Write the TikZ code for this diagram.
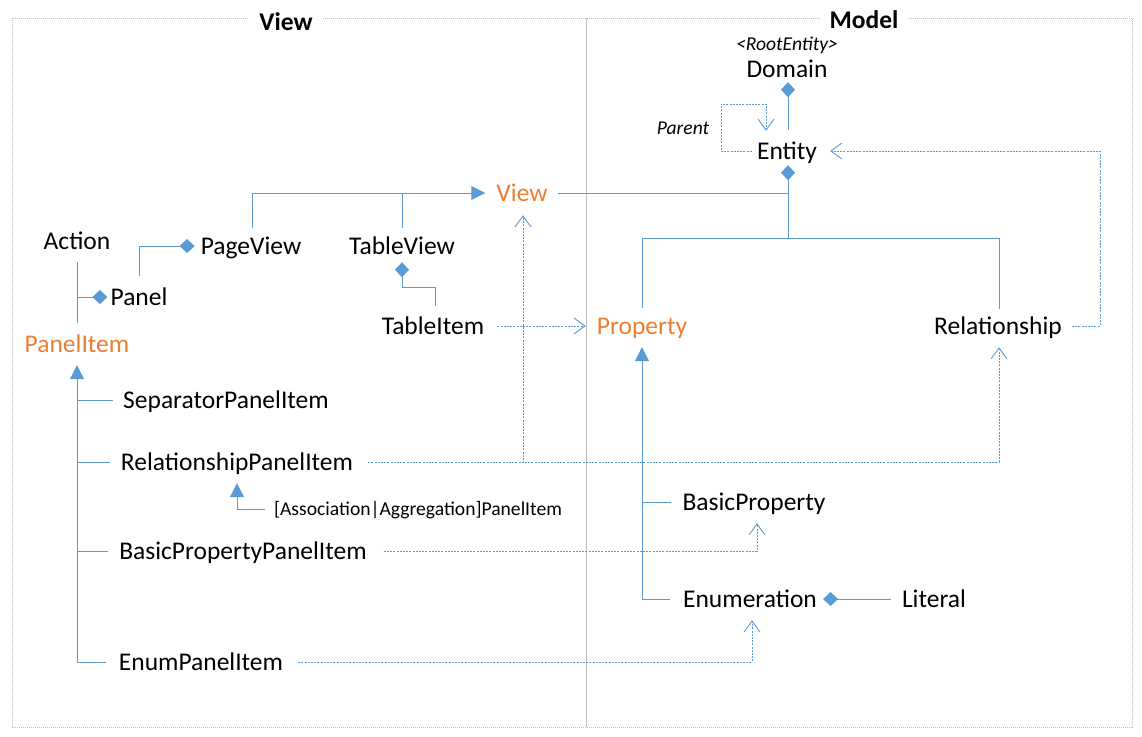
\documentclass[tikz,border=0pt]{standalone}
\usepackage{fontspec}
\setmainfont{Carlito}
\usetikzlibrary{arrows.meta}
\definecolor{lblue}{HTML}{5B9BD5}
\definecolor{orng}{HTML}{ED7D31}
\definecolor{frame}{HTML}{BFBFBF}
\tikzset{
  cls/.style={inner sep=0pt, font=\fontsize{25.5}{30}\selectfont, text height=19pt, text depth=3pt},
  abstr/.style={cls, text=orng},
  smalltext/.style={inner sep=0pt, font=\fontsize{19.6}{23}\selectfont, text height=15pt, text depth=2pt},
  smallit/.style={smalltext, font=\fontsize{19.6}{23}\selectfont\itshape},
  title/.style={inner xsep=10pt, inner ysep=0pt, fill=white, font=\fontsize{25.5}{30}\selectfont\bfseries, text height=19pt, text depth=3pt},
  line/.style={draw=lblue, line width=1pt},
  dep/.style={draw=lblue, line width=0.9pt, dash pattern=on 2pt off 1.2pt, -{Straight Barb[length=11pt,width=16pt,line width=0.9pt]}},
  comp/.style={{Diamond[length=15pt,width=14pt,fill=lblue]}-},
  gen/.style={-{Triangle[length=14pt,width=14pt,fill=lblue]}}
}
\begin{document}
\begin{tikzpicture}[x=1pt,y=-1pt]
\path[use as bounding box] (0,0) rectangle (1142,736);
% frame
\draw[frame, line width=0.8pt, dash pattern=on 1pt off 1pt] (12,18) rectangle (1132,727);
\draw[frame, line width=0.8pt] (586,18) -- (586,727);
\node[title] (tView) at (286,22) {View};
\node[title] (tModel) at (864,20) {Model};

% model side
\node[smallit] (stereo) at (787,44) {<RootEntity>};
\node[cls] (Domain) at (787,69) {Domain};
\node[cls] (Entity) at (787,151) {Entity};
\node[smallit] (parentlbl) at (683,128) {Parent};
\node[abstr] (View) at (522,193) {View};
\node[abstr] (Property) at (642,326) {Property};
\node[cls] (Relationship) at (998,326) {Relationship};
\node[cls] (BasicProperty) at (754,502) {BasicProperty};
\node[cls] (Enumeration) at (750,599) {Enumeration};
\node[cls] (Literal) at (934,599) {Literal};

% view side
\node[cls] (Action) at (77,241) {Action};
\node[cls] (PageView) at (251,246) {PageView};
\node[cls] (TableView) at (402,246) {TableView};
\node[cls] (Panel) at (139,297) {Panel};
\node[abstr] (PanelItem) at (77,344) {PanelItem};
\node[cls] (TableItem) at (433,326) {TableItem};
\node[cls] (SepPI) at (226,400) {SeparatorPanelItem};
\node[cls] (RelPI) at (237,462) {RelationshipPanelItem};
\node[smalltext] (AssocPI) at (418,509) {[Association|Aggregation]PanelItem};
\node[cls] (BasicPI) at (243,551) {BasicPropertyPanelItem};
\node[cls] (EnumPI) at (201,662) {EnumPanelItem};

% Domain - Entity
\draw[line,comp] ([xshift=1pt,yshift=-2pt]Domain.south) -- ([xshift=1pt,yshift=10pt]Entity.north);
% Parent self loop
\draw[dep] ([xshift=-5pt]Entity.west) -| (721,104) -| ([xshift=-21pt,yshift=9pt]Entity.north);
% Entity composition
\draw[line,comp] ([xshift=1pt,yshift=-3pt]Entity.south) -- (788,238) -| ([yshift=7pt]Property.north);
\draw[line] (788,238) -| ([xshift=1pt,yshift=6pt]Relationship.north);
\draw[line] ([xshift=10pt]View.east) -- (View.east -| 788,0);
% Relationship -> Entity
\draw[dep] ([xshift=10pt]Relationship.east) -| (1100,151) -- ([xshift=13pt]Entity.east);
% Property generalization
\draw[line,gen] ([xshift=-13pt]Enumeration.west) -| ([yshift=-10pt]Property.south);
\draw[line] ([xshift=-11pt]BasicProperty.west) -- (Property.south |- BasicProperty.west);
% Literal composition
\draw[line,comp] ([xshift=6pt]Enumeration.east) -- ([xshift=-11pt]Literal.west);

% PageView, TableView -> View
\draw[line,gen] ([xshift=1pt,yshift=7pt]PageView.north) |- ([xshift=-11pt]View.west);
\draw[line] ([yshift=7pt]TableView.north) -- (TableView.north |- View.west);
% TableView - TableItem
\draw[line,comp] ([yshift=-5pt]TableView.south) |- (435,287) -- ([xshift=2pt,yshift=9pt]TableItem.north);
% TableItem -> Property
\draw[dep] ([xshift=13pt]TableItem.east) -- ([xshift=-11pt]Property.west);
% Panel -> PageView
\draw[line,comp] ([xshift=-6pt]PageView.west) -| ([yshift=10pt]Panel.north);
% Action / PanelItem - Panel
\draw[line] ([yshift=-10pt]Action.south) -- ([yshift=10pt]PanelItem.north);
\draw[line,comp] ([xshift=-3pt]Panel.west) -- (Action.south |- Panel.west);
% PanelItem generalization
\draw[line,gen] ([xshift=-13pt]EnumPI.west) -| ([yshift=-10pt]PanelItem.south);
\draw[line] ([xshift=-10pt]SepPI.west) -- (PanelItem.south |- SepPI.west);
\draw[line] ([xshift=-11pt]RelPI.west) -- (PanelItem.south |- RelPI.west);
\draw[line] ([xshift=-11pt]BasicPI.west) -- (PanelItem.south |- BasicPI.west);
% Assoc -> RelPI
\draw[line,gen] ([xshift=-9pt]AssocPI.west) -| ([yshift=-10pt]RelPI.south);
% dependencies from panel items
\draw[dep] ([xshift=15pt]RelPI.east) -| ([xshift=1pt,yshift=-11pt]View.south);
\draw[dep] ([xshift=15pt]RelPI.east) -| ([xshift=1pt,yshift=-10pt]Relationship.south);
\draw[dep] ([xshift=17pt]BasicPI.east) -| ([xshift=3pt,yshift=-10pt]BasicProperty.south);
\draw[dep] ([xshift=15pt]EnumPI.east) -| ([xshift=2pt,yshift=-10pt]Enumeration.south);
\end{tikzpicture}
\end{document}
